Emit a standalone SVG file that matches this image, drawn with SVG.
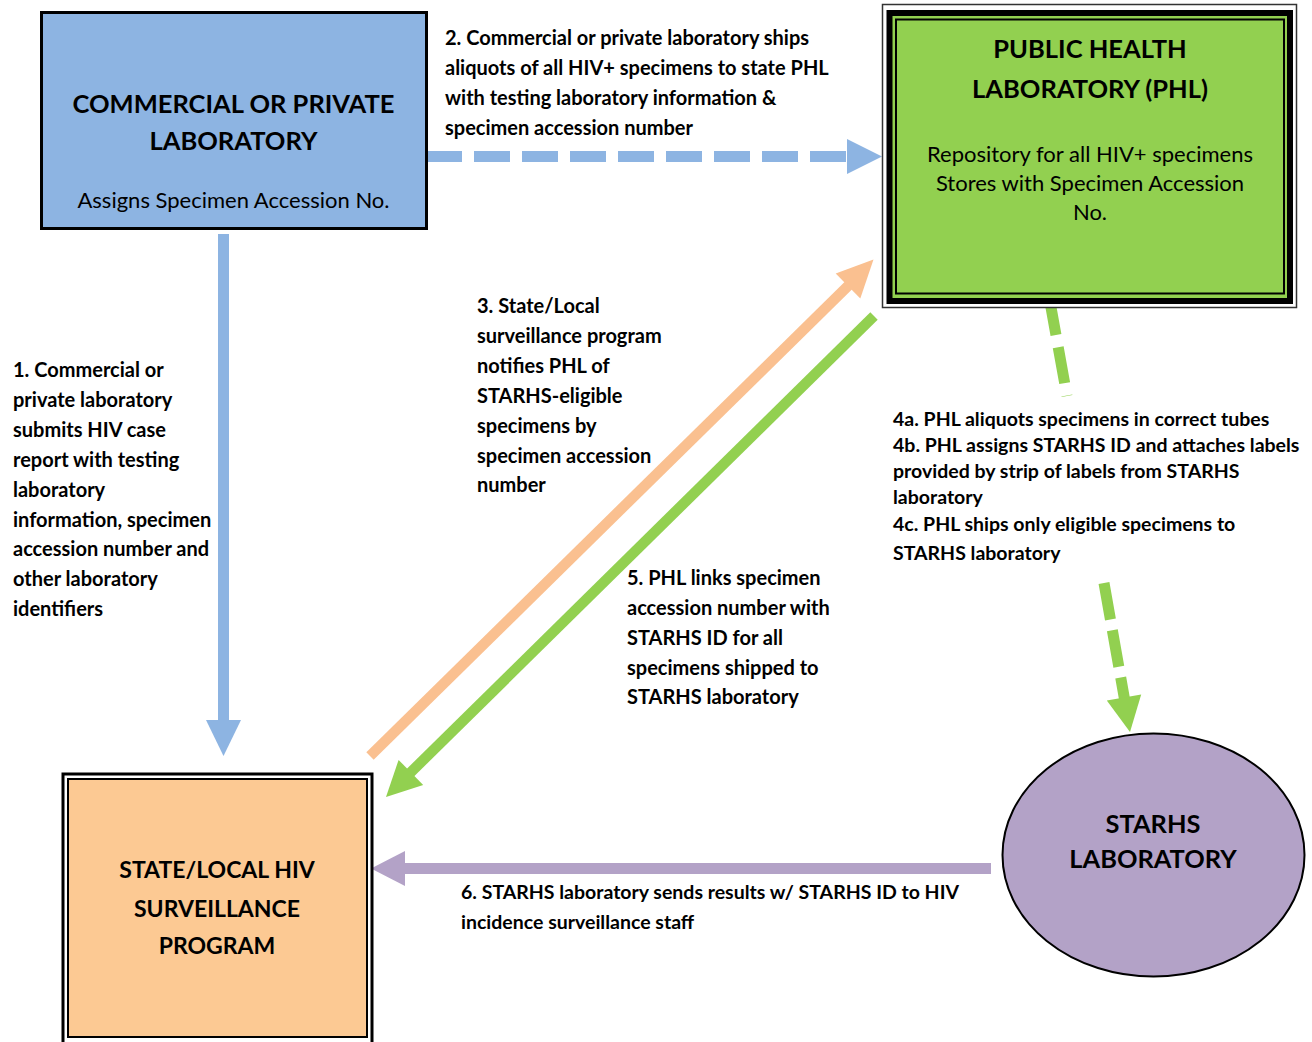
<svg xmlns="http://www.w3.org/2000/svg" width="1312" height="1042" viewBox="0 0 1312 1042">
<style>
.lbl{font-family:Lato,"Open Sans","Liberation Sans",sans-serif;font-weight:bold;font-size:20px;fill:#000}
.lbs{font-size:19.5px}
.ttl{font-family:Lato,"Open Sans","Liberation Sans",sans-serif;font-weight:bold;fill:#000;text-anchor:middle}
.sub{font-family:Lato,"Open Sans","Liberation Sans",sans-serif;font-size:22px;fill:#000;text-anchor:middle}
</style>
<rect width="1312" height="1042" fill="#fff"/>
<g id="connectors">
  <!-- 1 blue vertical -->
  <rect x="218" y="234" width="11" height="487" fill="#8DB4E2"/>
  <polygon points="206,720 241,720 223.5,756" fill="#8DB4E2"/>
  <!-- 2 blue dashed -->
  <line x1="426" y1="156.5" x2="848" y2="156.5" stroke="#8DB4E2" stroke-width="11" stroke-dasharray="36 12"/>
  <polygon points="847,139 847,174 882,156.5" fill="#8DB4E2"/>
  <!-- 3 orange -->
  <line x1="370" y1="756" x2="850" y2="284" stroke="#FAC090" stroke-width="10.5"/>
  <polygon points="873.5,259.5 835.7,273.5 860.3,298.5" fill="#FAC090"/>
  <!-- 5 green -->
  <line x1="874" y1="316" x2="408" y2="775" stroke="#92D050" stroke-width="10.5"/>
  <polygon points="386,797 398.6,759.9 423.2,784.9" fill="#92D050"/>
  <!-- 4 green dashed -->
  <line x1="1049.5" y1="299" x2="1067" y2="396" stroke="#92D050" stroke-width="11" stroke-dasharray="36.5 12.5"/>
  <line x1="1104" y1="583" x2="1124.5" y2="699" stroke="#92D050" stroke-width="11" stroke-dasharray="37 11"/>
  <polygon points="1130,732 1106.8,700.5 1141.2,694.5" fill="#92D050"/>
  <!-- 6 purple -->
  <rect x="404" y="863" width="587" height="11" fill="#B3A2C7"/>
  <polygon points="371,868.5 405,851 405,886" fill="#B3A2C7"/>
</g>
<g id="commercial-lab">
  <rect x="41.5" y="12.5" width="385" height="216" fill="#8DB4E2" stroke="#000" stroke-width="3"/>
  <text class="ttl" x="233.5" y="113" font-size="25.5">COMMERCIAL OR PRIVATE</text>
  <text class="ttl" x="233.5" y="150" font-size="25.5">LABORATORY</text>
  <text class="sub" x="233.5" y="208">Assigns Specimen Accession No.</text>
</g>
<g id="phl">
  <rect x="882.5" y="4.5" width="414" height="303" fill="#fff" stroke="#333" stroke-width="1.5"/>
  <rect x="889.5" y="13" width="400.5" height="288" fill="#92D050" stroke="#000" stroke-width="6"/>
  <rect x="896" y="19.5" width="388" height="274" fill="none" stroke="#000" stroke-width="2"/>
  <text class="ttl" x="1090" y="58" font-size="25.5">PUBLIC HEALTH</text>
  <text class="ttl" x="1090" y="98" font-size="25.5">LABORATORY (PHL)</text>
  <text class="sub" x="1090" y="162">Repository for all HIV+ specimens</text>
  <text class="sub" x="1090" y="191">Stores with Specimen Accession</text>
  <text class="sub" x="1090" y="220">No.</text>
</g>
<g id="state-local">
  <rect x="63" y="774" width="309" height="272" fill="#fff" stroke="#000" stroke-width="3"/>
  <rect x="68" y="779" width="299" height="258" fill="#FCC993" stroke="#000" stroke-width="2"/>
  <text class="ttl" x="217" y="878" font-size="23">STATE/LOCAL HIV</text>
  <text class="ttl" x="217" y="917" font-size="23">SURVEILLANCE</text>
  <text class="ttl" x="217" y="954" font-size="23">PROGRAM</text>
</g>
<g id="starhs">
  <ellipse cx="1153.5" cy="855" rx="151" ry="121.5" fill="#B3A2C7" stroke="#000" stroke-width="2"/>
  <text class="ttl" x="1153" y="833" font-size="25.4">STARHS</text>
  <text class="ttl" x="1153" y="868" font-size="25.4">LABORATORY</text>
</g>
<g id="labels">
  <text class="lbl"><tspan x="13" y="377">1. Commercial or</tspan><tspan x="13" y="407">private laboratory</tspan><tspan x="13" y="437">submits HIV case</tspan><tspan x="13" y="467">report with testing</tspan><tspan x="13" y="497">laboratory</tspan><tspan x="13" y="527">information, specimen</tspan><tspan x="13" y="556">accession number and</tspan><tspan x="13" y="586">other laboratory</tspan><tspan x="13" y="616">identifiers</tspan></text>
  <text class="lbl"><tspan x="445" y="45">2. Commercial or private laboratory ships</tspan><tspan x="445" y="75">aliquots of all HIV+ specimens to state PHL</tspan><tspan x="445" y="105">with testing laboratory information &amp;</tspan><tspan x="445" y="135">specimen accession number</tspan></text>
  <text class="lbl"><tspan x="477" y="313">3. State/Local</tspan><tspan x="477" y="343">surveillance program</tspan><tspan x="477" y="373">notifies PHL of</tspan><tspan x="477" y="403">STARHS-eligible</tspan><tspan x="477" y="433">specimens by</tspan><tspan x="477" y="463">specimen accession</tspan><tspan x="477" y="492">number</tspan></text>
  <text class="lbl lbs"><tspan x="893" y="426">4a. PHL aliquots specimens in correct tubes</tspan><tspan x="893" y="452">4b. PHL assigns STARHS ID and attaches labels</tspan><tspan x="893" y="478">provided by strip of labels from STARHS</tspan><tspan x="893" y="504">laboratory</tspan><tspan x="893" y="531">4c. PHL ships only eligible specimens to</tspan><tspan x="893" y="560">STARHS laboratory</tspan></text>
  <text class="lbl"><tspan x="627" y="585">5. PHL links specimen</tspan><tspan x="627" y="615">accession number with</tspan><tspan x="627" y="645">STARHS ID for all</tspan><tspan x="627" y="675">specimens shipped to</tspan><tspan x="627" y="704">STARHS laboratory</tspan></text>
  <text class="lbl lbs"><tspan x="461" y="899">6. STARHS laboratory sends results w/ STARHS ID to HIV</tspan><tspan x="461" y="929">incidence surveillance staff</tspan></text>
</g>
</svg>
